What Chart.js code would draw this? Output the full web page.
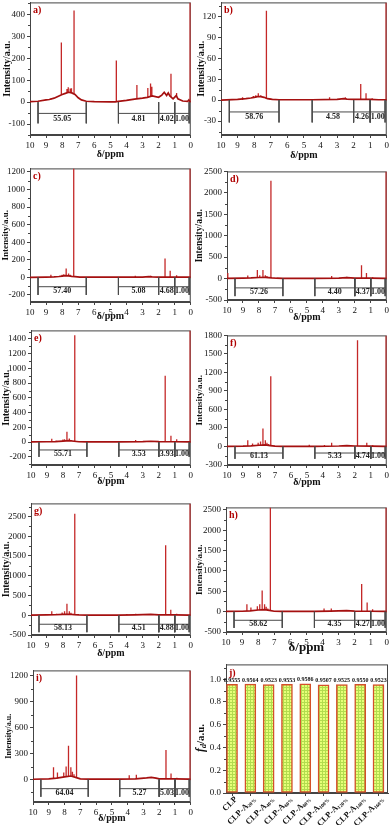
<!DOCTYPE html>
<html><head><meta charset="utf-8">
<script src="https://cdn.jsdelivr.net/npm/chart.js@4/dist/chart.umd.min.js"></script>
<style>
html,body{margin:0;padding:0;background:#fff;}
body{width:391px;height:825px;position:relative;overflow:hidden;}
canvas{position:absolute;}
</style>
</head><body>
<script>
// ---------------- DATA ----------------
const xTicks = [10,9,8,7,6,5,4,3,2,1,0];
const integralRanges = [[9.5,6.5],[4.5,2.0],[2.0,1.0],[1.0,0.1]];

// spectrum baselines [ppm, intensity] and peaks [ppm, base, top]
const baseA = [[10,2],[9.5,4],[9.0,10],[8.8,12],[8.5,18],[8.2,28],[8.0,35],[7.8,40],[7.6,45],[7.4,42],[7.2,35],[7.0,20],[6.8,10],[6.5,4],[6.0,2],[5.0,1],[4.7,1],[4.5,3],[4.0,8],[3.5,14],[3.0,18],[2.7,22],[2.4,28],[2.0,22],[1.8,32],[1.65,45],[1.5,30],[1.4,42],[1.3,28],[1.1,15],[0.9,30],[0.8,15],[0.5,5],[0.2,3],[0.12,10],[0.06,2],[0,1]];
const peaksA = [[8.7,12,16],[8.05,35,272],[7.7,42,60],[7.62,45,68],[7.5,44,62],[7.42,42,63],[7.26,38,418],[4.63,1,190],[3.35,14,78],[2.67,22,64],[2.5,25,85],[2.42,27,70],[1.23,25,130],[0.88,30,42],[0.04,0,455]];
const integA = [55.05,4.81,4.02,1.00];
const yTicksA = [-100,0,100,200,300,400];

const baseB = [[10,0],[9.0,1],[8.5,2],[8.2,3],[8.0,4],[7.8,5],[7.6,5],[7.4,4],[7.2,2],[6.9,1],[6.5,0.5],[4.5,0.5],[3.0,1],[2.6,2],[2.4,1.5],[2.0,1],[1.5,1],[1.0,1],[0.5,0.5],[0.1,0.5],[0,0]];
const peaksB = [[8.7,0,4],[8.05,3,6],[7.9,4,7],[7.75,5,10],[7.6,5,7],[7.26,2,128],[7.05,1,2.5],[3.45,0.8,4],[2.5,1.5,4],[1.57,1,23],[1.25,1,10],[0.88,0.5,2.5],[0.04,0,140]];
const integB = [58.76,4.58,4.26,1.00];
const yTicksB = [-30,0,30,60,90,120];

const baseC = [[10,0],[9,3],[8.5,5],[8.2,10],[8.0,15],[7.8,20],[7.6,18],[7.4,12],[7.2,8],[6.9,3],[6.5,2],[4.5,2],[3.0,4],[2.6,8],[2.4,6],[2.0,4],[1.0,3],[0.1,2],[0,0]];
const peaksC = [[8.7,3,30],[8.0,15,30],[7.9,18,35],[7.75,20,100],[7.6,18,45],[7.5,15,30],[7.28,8,1240],[3.45,4,20],[2.5,7,20],[1.6,4,215],[1.28,3,75],[0.88,3,25],[0.04,0,1240]];
const integC = [57.40,5.08,4.68,1.00];
const yTicksC = [-200,0,200,400,600,800,1000,1200];

const baseD = [[10,5],[9,10],[8.5,15],[8.0,25],[7.6,30],[7.2,15],[6.9,8],[6.5,5],[4.5,5],[3.0,10],[2.5,20],[2.0,10],[1.0,8],[0.1,5],[0,0]];
const peaksD = [[9.95,5,130],[8.7,12,70],[8.1,25,200],[7.95,28,80],[7.75,30,200],[7.6,30,80],[7.5,25,60],[7.25,15,2280],[3.45,10,60],[2.5,20,40],[1.58,10,310],[1.27,8,130],[0.88,8,30],[0.04,0,2500]];
const integD = [57.26,4.40,4.37,1.00];
const yTicksD = [-500,0,500,1000,1500,2000,2500];

const baseE = [[10,3],[9,5],[8.5,8],[8.0,15],[7.6,20],[7.3,12],[7.0,5],[6.5,3],[4.5,3],[3.0,6],[2.5,12],[2.0,6],[1.0,5],[0.1,3],[0,0]];
const peaksE = [[8.7,6,45],[8.4,8,20],[8.0,15,35],[7.9,16,40],[7.75,18,140],[7.6,20,50],[7.5,18,30],[7.26,12,1450],[4.0,4,15],[3.45,5,30],[2.5,12,15],[1.6,6,900],[1.24,5,85],[0.88,5,40],[0.04,0,1515]];
const integE = [55.71,3.53,3.93,1.00];
const yTicksE = [-200,0,200,400,600,800,1000,1200,1400];

const baseF = [[10,3],[9,5],[8.5,10],[8.0,20],[7.6,25],[7.3,15],[7.0,5],[6.5,3],[4.5,3],[3.0,8],[2.5,15],[2.0,8],[1.0,5],[0.1,3],[0,0]];
const peaksF = [[8.7,8,100],[8.4,10,50],[8.05,18,60],[7.9,20,80],[7.75,22,290],[7.6,25,100],[7.5,22,60],[7.4,18,40],[7.26,15,1140],[4.85,3,30],[3.9,5,25],[3.45,7,60],[2.5,15,20],[1.83,8,1720],[1.25,6,60],[0.88,5,20],[0.04,0,1800]];
const integF = [61.13,5.33,4.74,1.00];
const yTicksF = [-300,0,300,600,900,1200,1500,1800];

const baseG = [[10,5],[9,8],[8.5,12],[8.0,20],[7.6,25],[7.3,15],[7.0,8],[6.5,5],[4.5,5],[3.5,10],[2.5,20],[2.0,10],[1.0,8],[0.1,5],[0,0]];
const peaksG = [[8.7,10,100],[8.4,12,40],[8.05,20,70],[7.9,22,100],[7.75,23,290],[7.6,25,100],[7.5,22,60],[7.26,15,2570],[4.0,6,30],[3.45,10,40],[2.5,20,25],[1.57,10,1770],[1.25,8,140],[0.88,8,40],[0.04,0,2830]];
const integG = [58.13,4.51,4.88,1.00];
const yTicksG = [-500,0,500,1000,1500,2000,2500];

const baseH = [[10,5],[9,10],[8.5,20],[8.0,40],[7.6,50],[7.3,30],[7.0,10],[6.5,5],[4.5,5],[3.5,12],[2.5,25],[2.0,12],[1.0,10],[0.1,5],[0,0]];
const peaksH = [[8.7,15,180],[8.45,20,100],[8.05,40,130],[7.9,45,180],[7.75,48,520],[7.6,50,180],[7.5,45,120],[7.4,40,80],[7.24,30,2560],[3.9,8,80],[3.45,12,80],[2.5,25,40],[1.56,12,680],[1.22,10,225],[0.88,10,60],[0.04,0,2560]];
const integH = [58.62,4.35,4.27,1.00];
const yTicksH = [-500,0,500,1000,1500,2000,2500];

const baseI = [[10,3],[9,6],[8.5,15],[8.0,30],[7.6,40],[7.3,25],[7.0,8],[6.5,4],[4.5,4],[3.5,8],[2.8,18],[2.5,25],[2.2,15],[2.0,8],[1.0,6],[0.1,4],[0,0]];
const peaksI = [[8.7,10,140],[8.45,15,80],[8.05,28,80],[7.9,32,150],[7.75,35,390],[7.6,38,140],[7.5,35,90],[7.4,30,60],[7.24,25,1200],[3.9,6,50],[3.45,7,55],[2.5,25,30],[1.57,8,340],[1.25,6,70],[0.88,6,20],[0.04,0,1260]];
const integI = [64.04,5.27,5.03,1.00];
const yTicksI = [0,300,600,900,1200];

// bar panel j
const sampleMain = ['CLP','CLP-A','CLP-A','CLP-A','CLP-A','CLP-A','CLP-A','CLP-A','CLP-A'];
const sampleSub  = ['','20%','40%','60%','80%','100%','120%','140%','160%'];
const fdValues = [0.9555,0.9564,0.9523,0.9553,0.9586,0.9507,0.9525,0.9550,0.9523];
const yTicksJ = [0,0.2,0.4,0.6,0.8,1.0];

// ---------------- LAYOUT ----------------
const FONT = '"Liberation Serif", "Times New Roman", serif';
const AX = '#444';

function makeCanvas(left, top, w, h){
  const c = document.createElement('canvas');
  c.width = w; c.height = h;
  c.style.left = left+'px'; c.style.top = top+'px';
  c.style.width = w+'px'; c.style.height = h+'px';
  document.body.appendChild(c);
  return c;
}

function minorTicks(ctx, a, y, ticks, min, max){
  const step = ticks[1]-ticks[0];
  ctx.beginPath();
  for(let v = ticks[0]-step/2; v <= max; v += step){
    if (v < min) continue;
    const py = Math.round(y.getPixelForValue(v))+0.5;
    ctx.moveTo(a.left, py); ctx.lineTo(a.left-2, py);
  }
  ctx.stroke();
}

function spectrum(letter, base, peaks, integ, yTicks, s){
  const leftCol = s.L < 100;
  const colLeft = leftCol ? 0 : 193;
  const colRight = leftCol ? 195 : 391;
  const padTop = 6;
  const xf = s.xf || 10;
  const cTop = s.T - padTop;
  const cBottom = Math.round(s.xt + xf*0.6);
  const canvas = makeCanvas(colLeft, cTop, colRight-colLeft, cBottom-cTop);

  const baseData = base.map(p => ({x:p[0], y:p[1]}));
  const peakData = [];
  peaks.forEach(p => { peakData.push({x:p[0],y:p[1]},{x:p[0],y:p[2]},{x:p[0],y:null}); });
  const bot = s.bb, mid = s.bb*0.53;
  const brData = [];
  integralRanges.forEach(r => {
    brData.push({x:r[0],y:0},{x:r[0],y:bot},{x:r[0],y:null},
                {x:r[1],y:0},{x:r[1],y:bot},{x:r[1],y:null},
                {x:r[0],y:mid},{x:r[1],y:mid},{x:r[1],y:null});
  });

  const frame = {
    id:'frame'+letter,
    beforeDatasetsDraw(chart){
      const {ctx, chartArea:a, scales:{y}} = chart;
      ctx.save();
      ctx.strokeStyle = AX; ctx.lineWidth = 1;
      ctx.strokeRect(a.left+0.5, a.top+0.5, a.right-a.left-1, a.bottom-a.top-1);
      minorTicks(ctx, a, y, yTicks, s.yMin, s.yMax);
      ctx.restore();
    },
    afterDraw(chart){
      const {ctx, chartArea:a, scales:{x,y}} = chart;
      ctx.save();
      ctx.fillStyle = '#b00000';
      ctx.font = 'bold 10px '+FONT;
      ctx.textBaseline = 'middle'; ctx.textAlign = 'left';
      ctx.fillText(letter+')', a.left+3, a.top+8);
      ctx.fillStyle = '#222';
      ctx.font = 'bold 8px '+FONT;
      ctx.textAlign = 'center';
      integralRanges.forEach((r,i) => {
        ctx.fillText(integ[i].toFixed(2), x.getPixelForValue((r[0]+r[1])/2), y.getPixelForValue(bot*0.77));
      });
      ctx.restore();
    }
  };

  new Chart(canvas, {
    type:'line',
    data:{datasets:[
      {data:brData, borderColor:'#4a4a4a', borderWidth:1, pointRadius:0, spanGaps:false, tension:0},
      {data:baseData, borderColor:'#a51010', borderWidth:1.7, pointRadius:0, tension:0},
      {data:peakData, borderColor:'#c42828', borderWidth:1.3, pointRadius:0, spanGaps:false, tension:0}
    ]},
    options:{
      responsive:false, animation:false, events:[],
      layout:{padding:{top:padTop, right:colRight-s.R, left:0, bottom:0}},
      plugins:{legend:{display:false}, tooltip:{enabled:false}},
      scales:{
        x:{type:'linear', reverse:true, min:0, max:10,
           afterBuildTicks: sc => { sc.ticks = xTicks.map(v => ({value:v})); },
           afterFit: sc => { sc.height = cBottom - s.B; },
           ticks:{font:{family:FONT,size:9}, color:'#111', padding:2, maxRotation:0, autoSkip:false, callback:v => String(v)},
           grid:{drawOnChartArea:false, tickLength:3, color:AX},
           border:{color:AX},
           title:{display:true, text:'δ/ppm', color:'#111', font:{family:FONT,size:xf,weight:'bold'}, padding:{top:0,bottom:0}}},
        y:{type:'linear', min:s.yMin, max:s.yMax,
           afterBuildTicks: sc => { sc.ticks = yTicks.map(v => ({value:v})); },
           afterFit: sc => { sc.width = s.L - colLeft; },
           ticks:{font:{family:FONT,size:9}, color:'#111', padding:2, callback:v => String(v)},
           grid:{drawOnChartArea:false, tickLength:3, color:AX},
           border:{color:AX},
           title:{display:true, text:'Intensity/a.u.', color:'#111', font:{family:FONT,size:s.yf,weight:'bold'}, padding:{top:Math.max(0, s.yc - colLeft - s.yf*0.6), bottom:0}}}
      }
    },
    plugins:[frame]
  });
}

spectrum('a', baseA, peaksA, integA, yTicksA, {L:30,T:1,R:191,B:135,yMin:-150,yMax:455,bb:-97,yc:7,yf:10,xt:154});
spectrum('b', baseB, peaksB, integB, yTicksB, {L:221,T:1,R:387,B:135,yMin:-50,yMax:140,bb:-32,yc:201,yf:10,xt:155});
spectrum('c', baseC, peaksC, integC, yTicksC, {L:30,T:167,R:191,B:302,yMin:-280,yMax:1240,bb:-200,yc:6,yf:9,xt:316});
spectrum('d', baseD, peaksD, integD, yTicksD, {L:227,T:170,R:388,B:300,yMin:-500,yMax:2500,bb:-410,yc:200,yf:9.5,xt:317});
spectrum('e', baseE, peaksE, integE, yTicksE, {L:31,T:329,R:192,B:465,yMin:-310,yMax:1515,bb:-200,yc:6,yf:10,xt:481});
spectrum('f', baseF, peaksF, integF, yTicksF, {L:227,T:334,R:388,B:465,yMin:-300,yMax:1800,bb:-200,yc:200,yf:9,xt:482});
spectrum('g', baseG, peaksG, integG, yTicksG, {L:31,T:502,R:192,B:635,yMin:-500,yMax:2830,bb:-430,yc:6,yf:10,xt:653});
spectrum('h', baseH, peaksH, integH, yTicksH, {L:226,T:506,R:388,B:632,yMin:-500,yMax:2560,bb:-400,yc:200,yf:9,xt:647,xf:13});
spectrum('i', baseI, peaksI, integI, yTicksI, {L:33,T:669,R:192,B:802,yMin:-260,yMax:1260,bb:-200,yc:9,yf:8,xt:818});

// ---------------- BAR PANEL j ----------------
(function(){
  const s = {L:226,T:663,R:388,B:793};
  const cl = 193, ct = s.T-6;
  const canvas = makeCanvas(cl, ct, 391-cl, 825-ct);
  const pc = document.createElement('canvas'); pc.width = 3; pc.height = 3;
  const pg = pc.getContext('2d');
  pg.fillStyle = '#e6ff78'; pg.fillRect(0,0,3,3);
  pg.fillStyle = '#b2dc4e'; pg.fillRect(0,0,3,1); pg.fillRect(0,0,1,3);
  const pattern = pg.createPattern(pc, 'repeat');

  const deco = {
    id:'decoJ',
    beforeDatasetsDraw(chart){
      const {ctx, chartArea:a, scales:{y}} = chart;
      ctx.save();
      ctx.strokeStyle = AX; ctx.lineWidth = 1;
      ctx.strokeRect(a.left+0.5, a.top+0.5, a.right-a.left-1, a.bottom-a.top-1);
      ctx.beginPath();
      for (let v = 0.1; v <= 1.13; v += 0.2){
        const py = Math.round(y.getPixelForValue(v))+0.5;
        ctx.moveTo(a.left, py); ctx.lineTo(a.left-2, py);
      }
      ctx.stroke();
      ctx.restore();
    },
    afterDraw(chart){
      const {ctx, chartArea:a, scales:{x,y}} = chart;
      ctx.save();
      ctx.fillStyle = '#b00000'; ctx.font = 'bold 10px '+FONT;
      ctx.textBaseline = 'middle'; ctx.textAlign = 'left';
      ctx.fillText('j)', a.left+3, a.top+9);
      // value labels
      ctx.fillStyle = '#111'; ctx.font = 'bold 6px '+FONT; ctx.textAlign = 'center';
      ctx.textBaseline = 'bottom';
      fdValues.forEach((v,i) => ctx.fillText(v.toFixed(4), x.getPixelForValue(i), y.getPixelForValue(v)-1));
      // category labels (rotated, with subscript)
      sampleMain.forEach((m,i) => {
        ctx.save();
        ctx.translate(x.getPixelForValue(i)+4, a.bottom+5);
        ctx.rotate(-Math.PI/4);
        ctx.textAlign = 'right'; ctx.textBaseline = 'middle';
        let off = 0;
        if (sampleSub[i]) {
          ctx.font = 'bold 5px '+FONT;
          ctx.fillText(sampleSub[i], 0, 2);
          off = ctx.measureText(sampleSub[i]).width;
        }
        ctx.font = 'bold 8.5px '+FONT;
        ctx.fillText(m, -off, 0);
        ctx.restore();
      });
      // x title
      ctx.font = '12px '+FONT; ctx.textAlign = 'center'; ctx.textBaseline = 'middle';
      ctx.fillText('Samples', 300, 819 - ct);
      // y title f_d/a.u.
      ctx.save();
      ctx.translate(201 - cl, 738 - ct);
      ctx.rotate(-Math.PI/2);
      ctx.textAlign = 'left'; ctx.textBaseline = 'middle';
      ctx.font = 'italic bold 12px '+FONT;
      const w1 = ctx.measureText('f').width;
      ctx.font = 'italic bold 8px '+FONT;
      const w2 = ctx.measureText('d').width;
      ctx.font = 'bold 11px '+FONT;
      const w3 = ctx.measureText('/a.u.').width;
      let xs = -(w1+w2+w3)/2;
      ctx.font = 'italic bold 12px '+FONT; ctx.fillText('f', xs, 0); xs += w1;
      ctx.font = 'italic bold 8px '+FONT; ctx.fillText('d', xs, 3); xs += w2;
      ctx.font = 'bold 11px '+FONT; ctx.fillText('/a.u.', xs, 0);
      ctx.restore();
      ctx.restore();
    }
  };

  new Chart(canvas, {
    type:'bar',
    data:{datasets:[{
      data: fdValues.map((v,i) => ({x:i, y:v})),
      backgroundColor: pattern, borderColor:'#d4502a', borderWidth:1.5, borderSkipped:false, barThickness:11
    }]},
    options:{
      responsive:false, animation:false, events:[],
      layout:{padding:{top:6, right:391-s.R, left:0, bottom:0}},
      plugins:{legend:{display:false}, tooltip:{enabled:false}},
      scales:{
        x:{type:'linear', min:-0.33, max:8.52, offset:false,
           afterBuildTicks: sc => { sc.ticks = fdValues.map((v,i) => ({value:i})); },
           afterFit: sc => { sc.height = 825 - s.B; },
           ticks:{display:false},
           grid:{drawOnChartArea:false, offset:false, tickLength:3, color:AX},
           border:{color:AX}},
        y:{type:'linear', min:0, max:1.13,
           afterBuildTicks: sc => { sc.ticks = yTicksJ.map(v => ({value:v})); },
           afterFit: sc => { sc.width = s.L - cl; },
           ticks:{font:{family:FONT,size:9}, color:'#111', padding:2, callback:v => v.toFixed(1)},
           grid:{drawOnChartArea:false, tickLength:3, color:AX},
           border:{color:AX}}
      }
    },
    plugins:[deco]
  });
})();
</script>
</body></html>
